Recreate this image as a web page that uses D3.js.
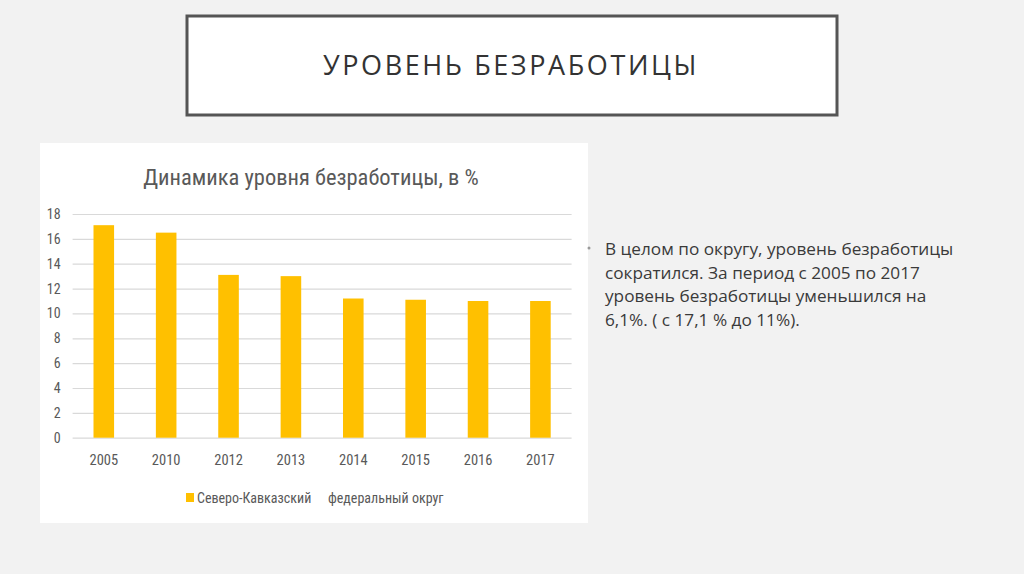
<!DOCTYPE html>
<html><head><meta charset="utf-8">
<script src="https://cdn.jsdelivr.net/npm/d3@7"></script>
<style>
html,body{margin:0;padding:0;background:#f2f2f2;}
svg{display:block;}
</style></head>
<body>
<svg id="c" width="1024" height="574"></svg>
<script>
const categories = ["2005","2010","2012","2013","2014","2015","2016","2017"];
const values = [17.1, 16.5, 13.1, 13.0, 11.2, 11.1, 11.0, 11.0];
const yTicks = [0,2,4,6,8,10,12,14,16,18];
const seriesName = ["Северо-Кавказский", "федеральный округ"];
const chartTitle = "Динамика уровня безработицы, в %";
const slideTitle = "УРОВЕНЬ БЕЗРАБОТИЦЫ";
const bodyLines = ["В целом по округу, уровень безработицы","сократился. За период с 2005 по 2017","уровень безработицы уменьшился на","6,1%. ( с 17,1 % до 11%)."];

const svg = d3.select("#c");
const narrow = "'Liberation Sans Narrow','Roboto Condensed','Liberation Sans',sans-serif";

svg.append("rect").attr("width",1024).attr("height",574).attr("fill","#f2f2f2");

// title box
svg.append("rect").attr("x",187).attr("y",16).attr("width",650).attr("height",99)
  .attr("fill","#fff").attr("stroke","#555").attr("stroke-width",3);
svg.append("text").attr("x",511).attr("y",75).attr("text-anchor","middle")
  .attr("font-family","'Open Sans',sans-serif").attr("font-size",27).attr("letter-spacing",2.6)
  .attr("fill","#333").text(slideTitle);

// chart box
svg.append("rect").attr("x",40).attr("y",143).attr("width",548).attr("height",380).attr("fill","#fff");

svg.append("text").attr("x",311).attr("y",185).attr("text-anchor","middle")
  .attr("font-family",narrow).attr("font-size",22.5).attr("fill","#595959").text(chartTitle);

const x = d3.scaleBand().domain(categories).range([72.6,571.6]).paddingInner(0.67).paddingOuter(0.335);
const y = d3.scaleLinear().domain([0,18]).range([437.7,214]);

const gy = svg.append("g").attr("transform","translate(72.6,0)")
  .call(d3.axisLeft(y).tickValues(yTicks).tickSize(-499).tickPadding(12));
gy.select(".domain").remove();
gy.selectAll(".tick line").attr("stroke","#d9d9d9").attr("stroke-width",1.2);
gy.selectAll(".tick text").attr("font-family",narrow).attr("font-size",14).attr("fill","#595959");

svg.selectAll("rect.bar").data(values).join("rect").attr("class","bar")
  .attr("x",(d,i)=>x(categories[i])).attr("width",x.bandwidth())
  .attr("y",d=>y(d)).attr("height",d=>y(0)-y(d)).attr("fill","#FFC000");

const gx = svg.append("g").attr("transform","translate(0,437.7)")
  .call(d3.axisBottom(x).tickSize(0).tickPadding(17));
gx.select(".domain").remove();
gx.selectAll(".tick text").attr("font-family",narrow).attr("font-size",14.5).attr("fill","#595959");

// legend
svg.append("rect").attr("x",186).attr("y",493).attr("width",8).attr("height",9).attr("fill","#FFC000");
svg.append("text").attr("x",197).attr("y",503).attr("font-family",narrow).attr("font-size",14)
  .attr("fill","#595959").text(seriesName[0]);
svg.append("text").attr("x",328).attr("y",503).attr("font-family",narrow).attr("font-size",14)
  .attr("fill","#595959").text(seriesName[1]);

// body text
svg.append("circle").attr("cx",589).attr("cy",248).attr("r",1.5).attr("fill","#999");
const bt = svg.append("g");
bodyLines.forEach((t,i)=>{
  bt.append("text").attr("x",605).attr("y",255+i*23.6)
    .attr("font-family","'Open Sans',sans-serif").attr("font-size",17.2).attr("fill","#3a3a3a").text(t);
});
</script>
</body></html>
